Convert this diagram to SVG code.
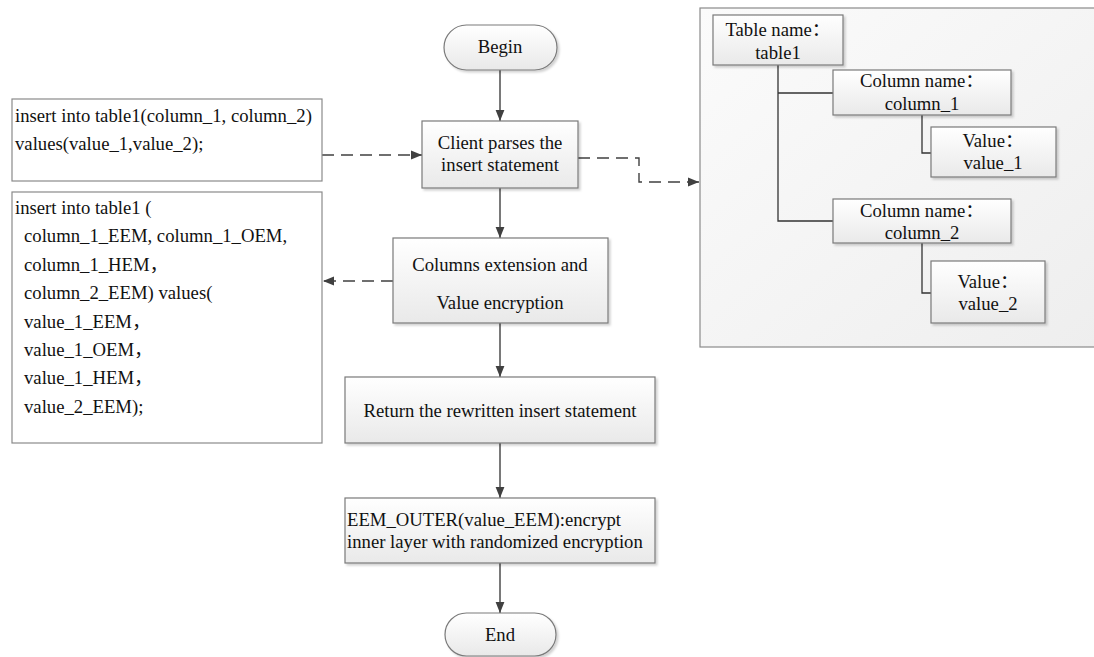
<svg xmlns="http://www.w3.org/2000/svg" width="1094" height="657" viewBox="0 0 1094 657">
<defs>
<linearGradient id="g" x1="0" y1="0" x2="0" y2="1"><stop offset="0" stop-color="#ffffff"/><stop offset="1" stop-color="#e9e9e9"/></linearGradient>
<linearGradient id="gb" x1="0" y1="0" x2="1" y2="1"><stop offset="0" stop-color="#fbfbfb"/><stop offset="1" stop-color="#eeeeee"/></linearGradient>
<filter id="sh" x="-10%" y="-10%" width="130%" height="140%"><feDropShadow dx="2" dy="2" stdDeviation="1" flood-color="#000" flood-opacity="0.18"/></filter>
<marker id="ah" viewBox="0 0 10 10" refX="10" refY="5" markerWidth="11" markerHeight="11" markerUnits="userSpaceOnUse" orient="auto"><path d="M0,1 L10,5 L0,9 Z" fill="#404040"/></marker>
</defs>
<style>
.t{font-size:18.7px;fill:#111}
.c{text-anchor:middle}
.box{fill:url(#g);stroke:#7a7a7a;stroke-width:1.2;filter:url(#sh)}
.wbox{fill:#fff;stroke:#8a8a8a;stroke-width:1.2}
.ln{fill:none;stroke:#404040;stroke-width:1.4}
.dash{fill:none;stroke:#404040;stroke-width:1.4;stroke-dasharray:12,7}
.tree{fill:none;stroke:#333;stroke-width:1.3}
</style>
<g id="schema">
<rect x="700" y="8" width="400" height="339" fill="url(#gb)" stroke="#8a8a8a" stroke-width="1.2"/>
<g class="tree">
<path d="M778,65 V221 H833"/><path d="M778,93 H833"/>
<path d="M922,115 V153 H931"/><path d="M922,243 V293 H931"/>
</g>
</g>
<g id="connectors">
<path class="ln" d="M500,70 V121" marker-end="url(#ah)"/>
<path class="ln" d="M500,188 V238" marker-end="url(#ah)"/>
<path class="ln" d="M500,323 V377" marker-end="url(#ah)"/>
<path class="ln" d="M500,443 V498" marker-end="url(#ah)"/>
<path class="ln" d="M500,563 V613" marker-end="url(#ah)"/>
<path class="dash" d="M322,155 H422" marker-end="url(#ah)"/>
<path class="dash" d="M578,158 H639 V182 H699" marker-end="url(#ah)"/>
<path class="dash" d="M393,281 H323" marker-end="url(#ah)"/>
</g>
<g class="t" font-family="'Liberation Serif', 'Noto Sans CJK SC', serif">
<g id="tbl"><rect class="box" x="713" y="15" width="130" height="50"/><text class="c" x="778" y="36">Table name：</text><text class="c" x="778" y="59">table1</text></g>
<g id="col1"><rect class="box" x="833" y="70" width="178" height="45"/><text class="c" x="922" y="87">Column name：</text><text class="c" x="922" y="110">column_1</text></g>
<g id="val1"><rect class="box" x="931" y="127" width="125" height="50"/><text class="c" x="993" y="147">Value：</text><text class="c" x="993" y="169">value_1</text></g>
<g id="col2"><rect class="box" x="833" y="199" width="178" height="44"/><text class="c" x="922" y="217">Column name：</text><text class="c" x="922" y="239">column_2</text></g>
<g id="val2"><rect class="box" x="931" y="261" width="114" height="62"/><text class="c" x="988" y="288">Value：</text><text class="c" x="988" y="310">value_2</text></g>
<g id="sql1"><rect class="wbox" x="12" y="99" width="310" height="82"/>
<text x="15" y="122">insert into table1(column_1, column_2)</text>
<text x="15" y="150">values(value_1,value_2);</text></g>
<g id="sql2"><rect class="wbox" x="12" y="192" width="310" height="251"/>
<text x="15" y="214">insert into table1 (</text>
<text x="24" y="242.4">column_1_EEM, column_1_OEM,</text>
<text x="24" y="270.8">column_1_HEM，</text>
<text x="24" y="299.2">column_2_EEM) values(</text>
<text x="24" y="327.6">value_1_EEM，</text>
<text x="24" y="356">value_1_OEM，</text>
<text x="24" y="384.4">value_1_HEM，</text>
<text x="24" y="412.8">value_2_EEM);</text></g>
<g id="begin"><rect class="box" x="444" y="25" width="113" height="45" rx="22.5"/><text class="c" x="500" y="53">Begin</text></g>
<g id="parse"><rect class="box" x="422" y="121" width="156" height="67"/><text class="c" x="500" y="149">Client parses the</text><text class="c" x="500" y="171">insert statement</text></g>
<g id="extend"><rect class="box" x="393" y="238" width="215" height="85"/><text class="c" x="500" y="271">Columns extension and</text><text class="c" x="500" y="309">Value encryption</text></g>
<g id="return"><rect class="box" x="345" y="377" width="310" height="66"/><text class="c" x="500" y="417">Return the rewritten insert statement</text></g>
<g id="eem"><rect class="box" x="345" y="498" width="310" height="65"/><text x="347" y="526">EEM_OUTER(value_EEM):encrypt</text><text x="347" y="548">inner layer with randomized encryption</text></g>
<g id="end"><rect class="box" x="445" y="613" width="111" height="43" rx="21.5"/><text class="c" x="500" y="641">End</text></g>
</g>
</svg>
